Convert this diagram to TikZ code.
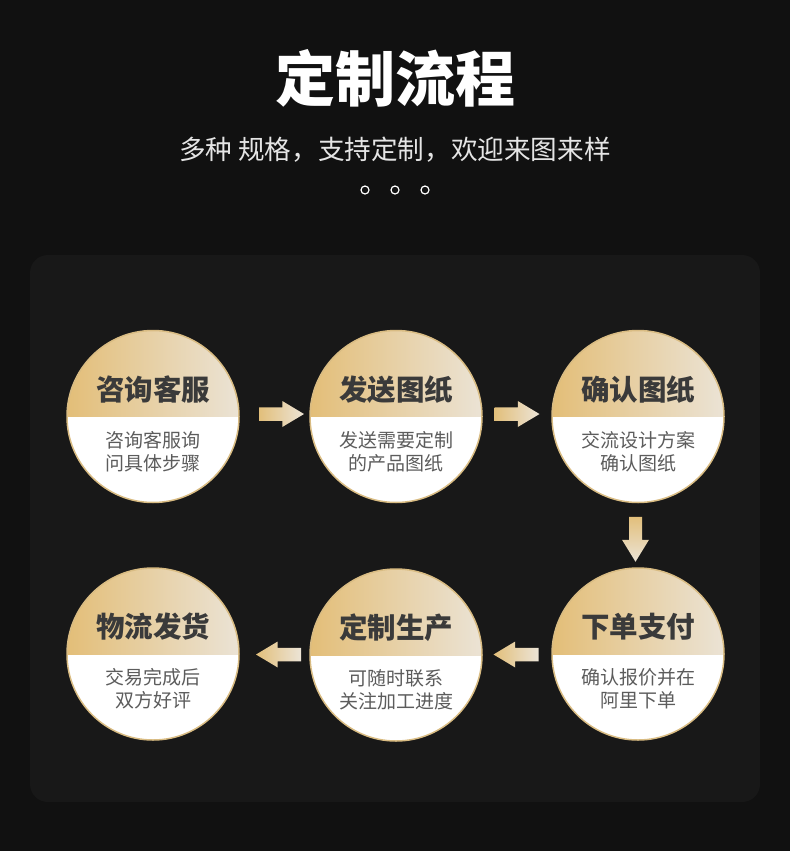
\documentclass[tikz,border=0pt]{standalone}
\usepackage{fontspec}
\setmainfont{Noto Sans CJK SC}
\usepackage{xcolor}
\usepackage{tikz}
\usetikzlibrary{calc}

\definecolor{pagebg}{HTML}{111111}
\definecolor{panelbg}{HTML}{181818}
\definecolor{stagegold}{HTML}{E3BE78}
\definecolor{stagepale}{HTML}{EBE3D5}
\definecolor{ringgold}{HTML}{D9BC83}
\definecolor{arrowgold}{HTML}{E2BF7B}
\definecolor{arrowpale}{HTML}{ECE4D6}
\definecolor{headgray}{HTML}{3A3A3A}
\definecolor{textgray}{HTML}{5C5C5C}

\begin{document}
\begin{tikzpicture}[x=1pt, y=-1pt,
    stage/.style={circle, minimum size=172pt, inner sep=0pt, fill=white,
                  draw=ringgold, line width=1.5pt,
        path picture={
            \shade[left color=stagegold, right color=stagepale]
                (path picture bounding box.north west) rectangle (path picture bounding box.east);
        }
    },
    stagehead/.style={font=\fontsize{28.5}{30}\selectfont\bfseries, text=headgray, inner sep=0pt},
    stagetext/.style={font=\fontsize{19}{23}\selectfont, text=textgray, align=center, inner sep=0pt},
    flowh/.style={left color=arrowgold, right color=arrowpale},
    flowv/.style={top color=arrowgold, bottom color=arrowpale},
    rarrow/.pic={
        \shade[flowh] (-22.5,-6.75) -- (0.8,-6.75) -- (0.8,-13) -- (22.5,0)
            -- (0.8,13) -- (0.8,6.75) -- (-22.5,6.75) -- cycle;
    },
    larrow/.pic={
        \shade[flowh] (22.5,-6.75) -- (-0.8,-6.75) -- (-0.8,-13) -- (-22.5,0)
            -- (-0.8,13) -- (-0.8,6.75) -- (22.5,6.75) -- cycle;
    },
    darrow/.pic={
        \shade[flowv] (-6.5,-22.5) -- (-6.5,0.5) -- (-13.5,0.5) -- (0,22.5)
            -- (13.5,0.5) -- (6.5,0.5) -- (6.5,-22.5) -- cycle;
    }
]

% ================================================================
%  Background
% ================================================================
\fill[pagebg] (0,0) rectangle (790,851);
\useasboundingbox (0,0) rectangle (790,851);
\fill[panelbg, rounded corners=18pt] (30,255) rectangle (760,802);

% ================================================================
%  Heading
% ================================================================
\node[text=white, font=\fontsize{60}{60}\selectfont\bfseries, inner sep=0pt] (title)
    at (395,78) {定制流程};
\node[text=white!90!black, font=\fontsize{26.6}{28}\selectfont, inner sep=0pt] (subtitle)
    at (395,150) {多种 规格，支持定制，欢迎来图来样};
\foreach \x in {365,395,425}
    \draw[white, line width=1.2pt] (\x,190) circle (4);

% ================================================================
%  Stages
% ================================================================
\foreach \name/\cx/\cy/\head/\desc in {
    s1/153/416.5/咨询客服/{咨询客服询\\问具体步骤},
    s2/396/416.5/发送图纸/{发送需要定制\\的产品图纸},
    s3/638/416.5/确认图纸/{交流设计方案\\确认图纸},
    s4/638/654/下单支付/{确认报价并在\\阿里下单},
    s5/396/655/定制生产/{可随时联系\\关注加工进度},
    s6/153/654/物流发货/{交易完成后\\双方好评}} {
    \node[stage] (\name) at (\cx,\cy) {};
    \node[stagehead] (\name-head) at ($(\name.center)+(0,-27)$) {\head};
    \node[stagetext] (\name-text) at ($(\name.center)+(0,35)$) {\desc};
}

% ================================================================
%  Flow arrows
% ================================================================
% row 1, left to right
\pic at ($(s1.east)!0.5!(s2.west)+(7,-2.5)$) {rarrow};
\pic at ($(s2.east)!0.5!(s3.west)+(0,-2.5)$) {rarrow};
% turn down
\pic at ($(s3.south)!0.5!(s4.north)+(-2.5,4)$) {darrow};
% row 2, right to left
\pic at ($(s4.west)!0.5!(s5.east)+(-1,0)$) {larrow};
\pic at ($(s5.west)!0.5!(s6.east)+(4,0)$) {larrow};
\end{tikzpicture}
\end{document}
